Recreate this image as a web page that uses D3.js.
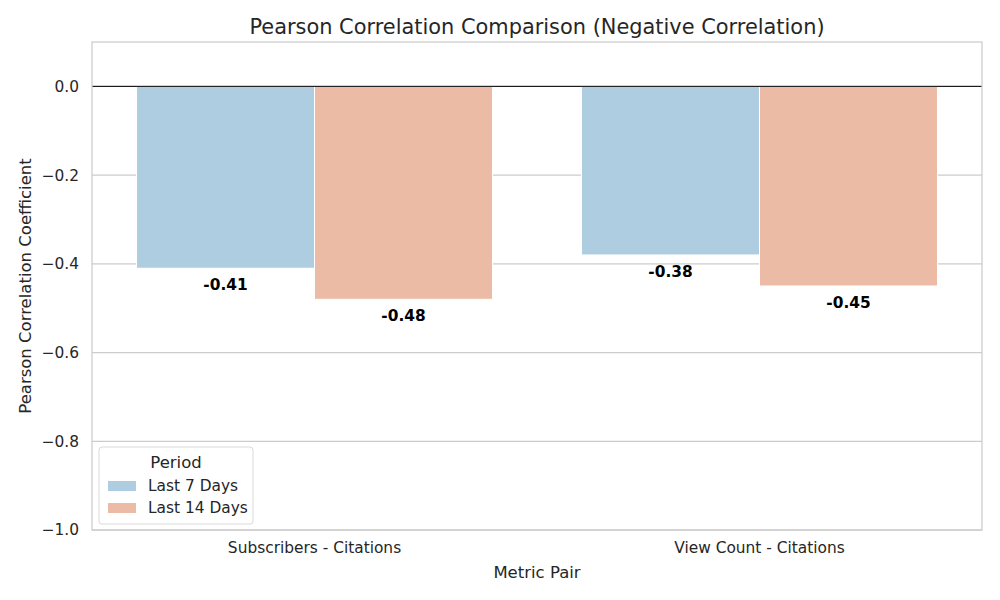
<!DOCTYPE html>
<html>
<head>
<meta charset="utf-8">
<script src="https://cdn.jsdelivr.net/npm/d3@7"></script>
<style>
  body { margin: 0; background: #fff; }
  text { font-family: "DejaVu Sans", sans-serif; }
</style>
</head>
<body>
<svg id="chart" width="1000" height="600"></svg>
<script>
// data
const pairs = ["Subscribers - Citations", "View Count - Citations"];
const periods = ["Last 7 Days", "Last 14 Days"];
const last7 = [-0.41, -0.38];
const last14 = [-0.48, -0.45];
const yTicks = [0.0, -0.2, -0.4, -0.6, -0.8, -1.0];
const colors = ["#afcde0", "#ebbba5"];

const svg = d3.select("#chart"),
    margin = {top: 42, right: 18, bottom: 70, left: 92},
    width = 1000 - margin.left - margin.right,
    height = 600 - margin.top - margin.bottom;

const rows = [];
pairs.forEach((p, i) => {
    rows.push({pair: p, period: periods[0], value: last7[i]});
    rows.push({pair: p, period: periods[1], value: last14[i]});
});

const x = d3.scaleBand().domain(pairs).range([0, width]).paddingInner(0.2).paddingOuter(0.1);
const x1 = d3.scaleBand().domain(periods).range([0, x.bandwidth()]);
const y = d3.scaleLinear().domain([-1.0, 0.1]).range([height, 0]);
const color = d3.scaleOrdinal().domain(periods).range(colors);

const g = svg.append("g").attr("transform", "translate(" + margin.left + "," + margin.top + ")");

// grid
g.selectAll(".grid").data(yTicks).enter().append("line")
    .attr("x1", 0).attr("x2", width)
    .attr("y1", d => y(d)).attr("y2", d => y(d))
    .attr("stroke", "#cccccc").attr("stroke-width", 1.25);

// bars
g.selectAll(".bar").data(rows).enter().append("rect")
    .attr("x", d => x(d.pair) + x1(d.period))
    .attr("y", y(0))
    .attr("width", x1.bandwidth())
    .attr("height", d => y(d.value) - y(0))
    .attr("fill", d => color(d.period))
    .attr("stroke", "#fff").attr("stroke-width", 1);

// value labels
g.selectAll(".lbl").data(rows).enter().append("text")
    .attr("x", d => x(d.pair) + x1(d.period) + x1.bandwidth() / 2)
    .attr("y", d => y(d.value) + 22)
    .attr("text-anchor", "middle")
    .attr("font-size", "15.4px").attr("font-weight", "bold").attr("fill", "#000")
    .text(d => d.value.toFixed(2));

// zero line
g.append("line").attr("x1", 0).attr("x2", width)
    .attr("y1", y(0)).attr("y2", y(0))
    .attr("stroke", "#000").attr("stroke-width", 1);

// spines
g.append("rect").attr("x", 0).attr("y", 0).attr("width", width).attr("height", height)
    .attr("fill", "none").attr("stroke", "#cccccc").attr("stroke-width", 1.25);

// axes
const yAxis = g.append("g").call(d3.axisLeft(y).tickValues(yTicks).tickSize(0).tickPadding(13)
    .tickFormat(d => d3.format(".1f")(d).replace("-", "\u2212")));
yAxis.select(".domain").remove();
yAxis.selectAll("text").attr("font-size", "15.4px").attr("fill", "#262626")
    .style("font-family", "DejaVu Sans");

const xAxis = g.append("g").attr("transform", "translate(0," + height + ")")
    .call(d3.axisBottom(x).tickSize(0).tickPadding(12));
xAxis.select(".domain").remove();
xAxis.selectAll("text").attr("font-size", "15.4px").attr("fill", "#262626")
    .style("font-family", "DejaVu Sans");

// axis titles
svg.append("text").attr("x", margin.left + width / 2).attr("y", 578)
    .attr("text-anchor", "middle").attr("font-size", "16.5px").attr("fill", "#262626")
    .text("Metric Pair");
svg.append("text").attr("transform", "translate(31," + (margin.top + height / 2) + ") rotate(-90)")
    .attr("text-anchor", "middle").attr("font-size", "16.5px").attr("fill", "#262626")
    .text("Pearson Correlation Coefficient");

// title
svg.append("text").attr("x", margin.left + width / 2).attr("y", 34)
    .attr("text-anchor", "middle").attr("font-size", "20.9px").attr("fill", "#262626")
    .text("Pearson Correlation Comparison (Negative Correlation)");

// legend
const lg = g.append("g").attr("transform", "translate(7,405)");
lg.append("rect").attr("width", 154).attr("height", 77).attr("rx", 3)
    .attr("fill", "#fff").attr("fill-opacity", 0.8).attr("stroke", "#d9d9d9");
lg.append("text").attr("x", 77).attr("y", 21).attr("text-anchor", "middle")
    .attr("font-size", "16.5px").attr("fill", "#262626").text("Period");
periods.forEach((p, i) => {
    lg.append("rect").attr("x", 9).attr("y", 34 + i * 22).attr("width", 28).attr("height", 10)
        .attr("fill", color(p));
    lg.append("text").attr("x", 49).attr("y", 44 + i * 22)
        .attr("font-size", "15.4px").attr("fill", "#262626").text(p);
});
</script>
</body>
</html>
